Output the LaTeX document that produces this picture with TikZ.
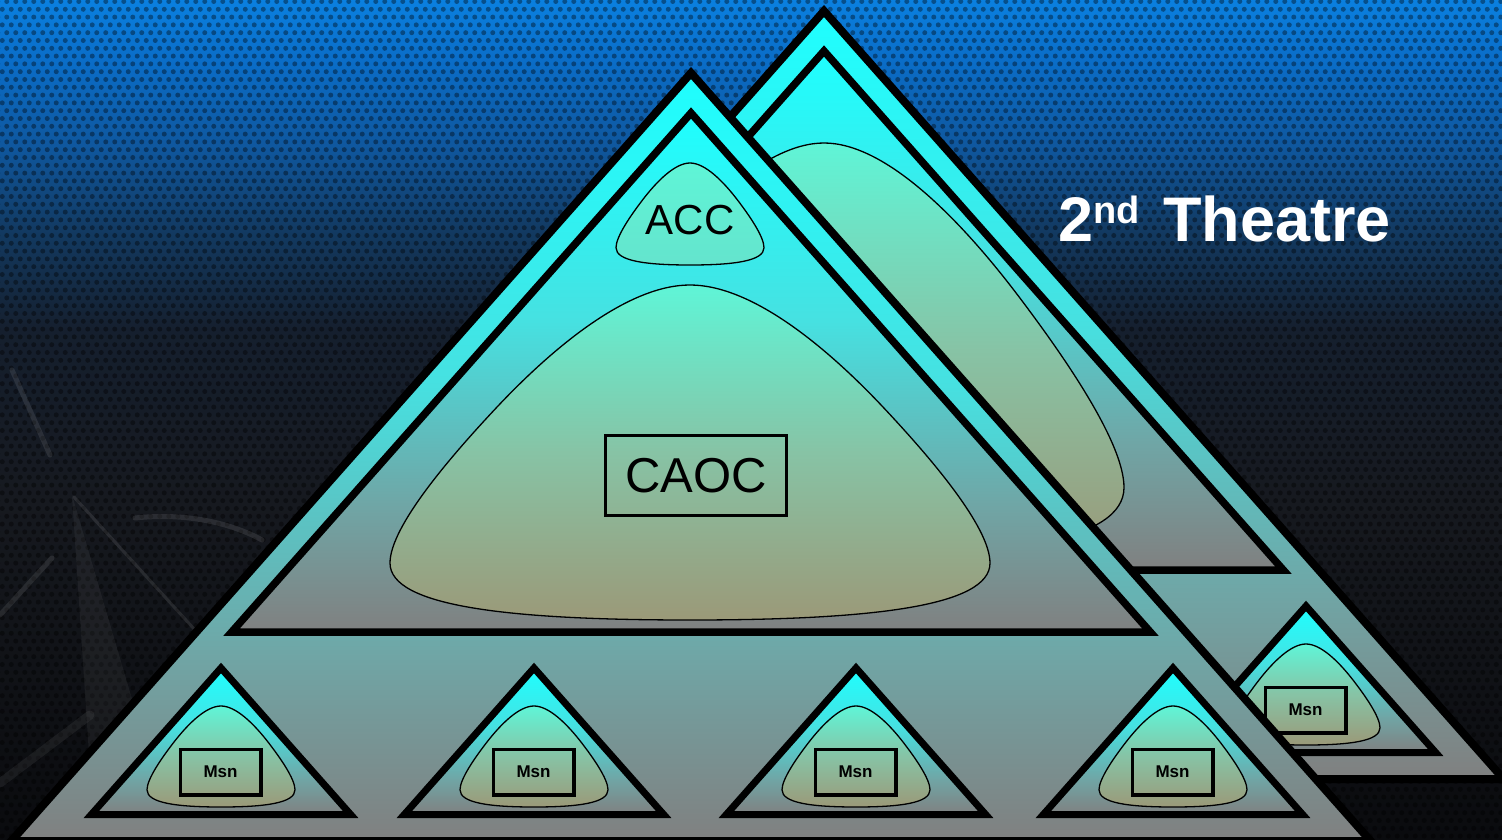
\documentclass[tikz,border=0pt]{standalone}
\usepackage{fontspec}
\setmainfont{Liberation Sans}
\usetikzlibrary{patterns}

\definecolor{tcyan}{RGB}{30,255,255}
\definecolor{tmidA}{RGB}{70,225,225}
\definecolor{tmidB}{RGB}{112,165,165}
\definecolor{tgray}{RGB}{128,128,128}
\definecolor{btop}{RGB}{95,245,215}
\definecolor{bmid}{RGB}{135,195,165}
\definecolor{bbot}{RGB}{155,153,120}
\definecolor{abot}{RGB}{100,228,205}
\definecolor{bg0}{RGB}{10,11,14}
\definecolor{bg1}{RGB}{22,25,31}
\definecolor{bg2}{RGB}{21,31,46}
\definecolor{bg3}{RGB}{18,58,98}
\definecolor{bg4}{RGB}{15,86,156}
\definecolor{bg5}{RGB}{10,109,200}
\definecolor{bg6}{RGB}{10,128,224}

\pgfdeclareverticalshading{trishade}{100bp}{color(0bp)=(tgray); color(25bp)=(tgray); color(37bp)=(tmidB); color(55bp)=(tmidA); color(75bp)=(tcyan); color(100bp)=(tcyan)}
\pgfdeclareverticalshading{blobshade}{100bp}{color(0bp)=(bbot); color(25bp)=(bbot); color(50bp)=(bmid); color(75bp)=(btop); color(100bp)=(btop)}
\pgfdeclareverticalshading{accshade}{100bp}{color(0bp)=(abot); color(25bp)=(abot); color(75bp)=(btop); color(100bp)=(btop)}
\pgfdeclareverticalshading{bgshade}{100bp}{color(0bp)=(bg0); color(25bp)=(bg0); color(45.2bp)=(bg1); color(55.4bp)=(bg2); color(61.3bp)=(bg3); color(66.1bp)=(bg4); color(71.4bp)=(bg5); color(75bp)=(bg6); color(100bp)=(bg6)}

\pgfdeclarepatternformonly{hexdots}{\pgfpoint{-1pt}{-1pt}}{\pgfpoint{10pt}{16.6pt}}{\pgfpoint{9pt}{15.6pt}}{%
  \pgfpathcircle{\pgfpoint{2.25pt}{3.9pt}}{2.5pt}%
  \pgfpathcircle{\pgfpoint{6.75pt}{11.7pt}}{2.5pt}%
  \pgfusepath{fill}}

% triangle: apex x, apex y, base y
\newcommand\tripath[3]{(#1,#2) -- ({#1-(#3-#2)/1.13},#3) -- ({#1+(#3-#2)/1.13},#3) -- cycle}
% rounded-triangle blob: centre x, top y, bottom y, half width
\newcommand\blobpath[4]{(#1,#2)
  .. controls ({#1+0.2*#4},#2) and ({#1+0.443*#4},{#2+0.174*(#3-#2)}) .. ({#1+0.643*#4},{#2+0.364*(#3-#2)})
  .. controls ({#1+0.793*#4},{#2+0.507*(#3-#2)}) and ({#1+#4},{#2+0.72*(#3-#2)}) .. ({#1+#4},{#2+0.83*(#3-#2)})
  .. controls ({#1+#4},{#2+0.96*(#3-#2)}) and ({#1+0.6*#4},#3) .. (#1,#3)
  .. controls ({#1-0.6*#4},#3) and ({#1-#4},{#2+0.96*(#3-#2)}) .. ({#1-#4},{#2+0.83*(#3-#2)})
  .. controls ({#1-#4},{#2+0.72*(#3-#2)}) and ({#1-0.793*#4},{#2+0.507*(#3-#2)}) .. ({#1-0.643*#4},{#2+0.364*(#3-#2)})
  .. controls ({#1-0.443*#4},{#2+0.174*(#3-#2)}) and ({#1-0.2*#4},#2) .. cycle}

\tikzset{
  bigtri/.style={draw=black, line width=8, line join=miter, shade, shading=trishade},
  midtri/.style={draw=black, line width=7.5, line join=miter, shade, shading=trishade},
  smalltri/.style={draw=black, line width=7, line join=miter, shade, shading=trishade},
  blob/.style={draw=black, line width=1.3, shade, shading=blobshade},
  msnbox/.style={draw=black, line width=3.5, minimum width=80.5, minimum height=45.5, inner sep=0, font=\bfseries\fontsize{17}{17}\selectfont},
  faint/.style={draw=white, draw opacity=0.09, line width=5, line cap=round}
}

\begin{document}
\begin{tikzpicture}[x=1pt,y=-1pt]
\useasboundingbox (0,0) rectangle (1502,840);
% background
\path[shade, shading=bgshade] (0,0) rectangle (1502,840);
\fill[pattern=hexdots, pattern color=black, fill opacity=0.38] (0,0) rectangle (1502,840);
% faint compass star
\draw[faint] (12,370) -- (50,455);
\draw[faint] (0,615) -- (52,558);
\draw[faint] (135,518) .. controls (190,512) and (235,525) .. (262,540);
\draw[faint, line width=3] (74,497) -- (195,630);
\draw[faint, line width=9, draw opacity=0.06] (0,783) -- (90,715);
\fill[white, opacity=0.05] (72,495) -- (150,760) -- (92,800) -- cycle;

% ---------- back theatre ----------
\begin{scope}[shift={(133,-62)}]
  \path[bigtri] \tripath{691}{73}{841};
  \path[midtri] \tripath{691}{113}{632};
  \path[blob] \blobpath{691}{205}{620}{300};
  \path[smalltri] \tripath{1173}{668}{814.5};
  \path[blob] \blobpath{1173}{706}{807}{74};
  \node[msnbox] (msnb) at (1172.5,772) {Msn};
\end{scope}

% ---------- front theatre ----------
\path[bigtri] \tripath{691}{73}{841};
\path[midtri] \tripath{691}{113}{632};
\path[blob] \blobpath{690}{285}{620}{300};
\path[blob, shading=accshade] \blobpath{690}{163}{265}{74};
\node (acc) at (690,220) {\fontsize{42}{42}\selectfont ACC};
\node[draw=black, line width=3, minimum width=181, minimum height=80, inner sep=0] (caoc) at (696,475.5) {\fontsize{49}{49}\selectfont CAOC};

\foreach \cx/\nm in {221/msn1, 534/msn2, 856/msn3, 1173/msn4}{
  \path[smalltri] \tripath{\cx}{668}{814.5};
  \path[blob] \blobpath{\cx}{706}{807}{74};
  \node[msnbox] (\nm) at (\cx-0.5,772) {Msn};
}

% title
\node[anchor=base west, text=white, inner sep=0, font=\bfseries\fontsize{63}{63}\selectfont] (title) at (1058,241) {2\raisebox{18pt}{\fontsize{38}{38}\selectfont nd}\hspace{6pt} Theatre};
\end{tikzpicture}
\end{document}
